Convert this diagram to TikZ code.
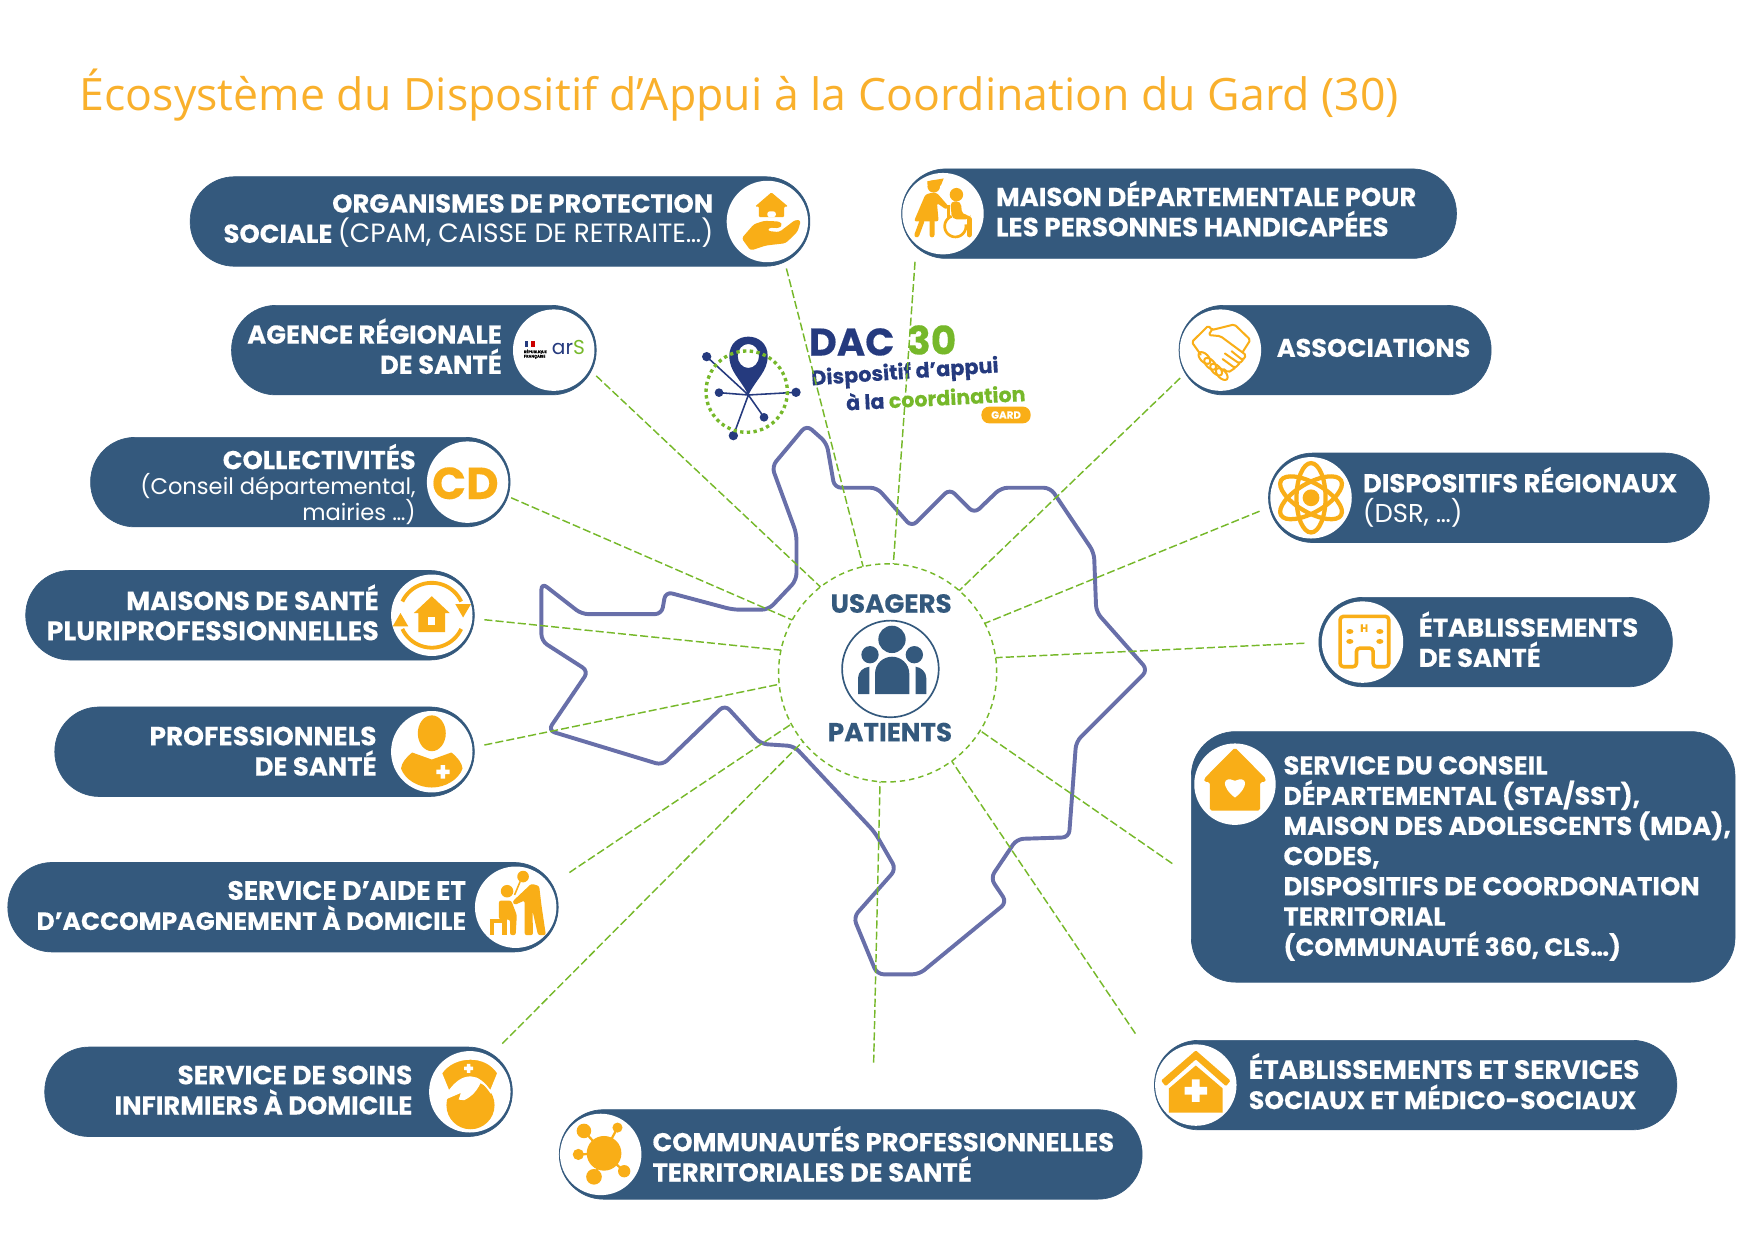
\documentclass[tikz,border=0pt]{standalone}
\usepackage{fontspec}
\setmainfont{Poppins}[BoldFeatures={FakeBold=0.25}]
\newfontfamily\titlefont{Open Sans}
\definecolor{pillc}{HTML}{34597D}
\definecolor{oran}{HTML}{F9AE17}
\definecolor{grn}{HTML}{76B82A}
\definecolor{mapc}{HTML}{686FA9}
\definecolor{navy}{HTML}{253A7E}
\definecolor{titlec}{HTML}{F9B02C}
\tikzset{
 pillshape/.style={fill=pillc,draw=pillc,line width=.3pt,rounded corners=19.8pt,inner sep=0pt,outer sep=0pt},
 icodisc/.style={circle,fill=white,inner sep=0pt,outer sep=0pt,minimum size=36.4pt},
 rlabel/.style={anchor=east,align=right,text=white,inner sep=0pt,font=\fontsize{11.55}{13.5}\selectfont\bfseries},
 llabel/.style={anchor=west,align=left,text=white,inner sep=0pt,font=\fontsize{11.55}{13.5}\selectfont\bfseries},
 link/.style={grn,line width=.65pt,dash pattern=on 3.6pt off 1.4pt},
 hubring/.style={circle,draw=grn,line width=.65pt,dash pattern=on 2.4pt off 1.8pt,minimum size=97.5pt,inner sep=0pt,outer sep=0pt},
 outline/.style={mapc,line width=1.75pt,rounded corners=3pt,line join=round},
 hublabel/.style={text=pillc,inner sep=0pt,font=\fontsize{11.7}{13}\selectfont\bfseries},
}
\newcommand{\sz}[1]{\fontsize{#1}{13.5}\selectfont}
\newcommand{\pillbox}[5]{\node[pillshape,minimum width={(#3-#2)*0.5pt},minimum height={(#5-#4)*0.5pt}] (#1) at ({(#2+#3)/2},{(#4+#5)/2}) {};}
% icons in local units, y downwards
\newcommand{\icoHand}{%
 \fill[oran,rounded corners=.5pt] (3.6,-26) -- (18.5,-13.4) -- (15,-13.4) -- (15,-3.9) -- (-7.5,-3.9) -- (-7.5,-13.4) -- (-11,-13.4) -- cycle;
 \fill[white,rounded corners=1pt] (0,-3.9) -- (0,-9) -- (7.5,-9) -- (7.5,-3.9) -- cycle;
 \fill[oran,rounded corners=1.2pt] (-23,15) -- (-12,2.4) -- (-3,-.6) -- (11,0) -- (13.5,3) -- (10.5,6) -- (1.5,5.4) -- (0,8.4) -- (10.5,9.5) -- (25,-1.5) -- (30,-1) -- (27,9) -- (16.4,19.4) -- (-1.5,21.5) -- (-15,26) -- cycle;}
\newcommand{\icoChair}{%
 \fill[oran] (-8.3,-24.4) circle[radius=5.6];
 \fill[oran] (-14,-26) -- (-14,-29) -- (.6,-31.5) -- (-2,-25) -- cycle;
 \fill[oran,rounded corners=1pt] (-11.3,-18.5) -- (-5.4,-18.5) -- (5,-6.5) -- (3,-3.6) -- (-5.4,-9.5) -- (-3.9,6.9) -- (-26,6.9) -- (-15.8,-17) -- cycle;
 \draw[oran,line width=2.2pt,line cap=round] (-18.9,6.9) -- (-23.4,19) (-9.8,6.9) -- (-9.8,19);
 \fill[oran] (12,-17) circle[radius=6];
 \fill[oran,rounded corners=2pt] (6.5,-11) -- (16,-11) -- (17,1) -- (24.5,1) -- (24.5,5) -- (8,5) -- cycle;
 \draw[oran,line width=1.2pt] plot[domain=-10:250,samples=30] ({11+9.5*cos(\x)},{11.3+9.5*sin(\x)});
 \draw[oran,line width=1.2pt] (5,-8) -- (5,4);
 \draw[oran,line width=2.2pt,line cap=round] (23.5,5) -- (23.5,19);}
\newcommand{\icoShake}{%
 \draw[oran,line width=.9pt,line join=round,line cap=round,rounded corners=.8pt] (-17.6,4) -- (-25.6,-7.2) -- (-10.7,-22) -- (-7.7,-18) -- (12.5,-23) -- (26.8,-9.2) -- (20,1.5)
 (-7.7,-18) -- (-10.7,-13.5) -- (0,-12.5) -- (23,4.5) -- (20,9) -- (10,1)
 (20,9) -- (17,12) -- (4,3) (17,12) -- (13,16) -- (2,8) (13,16) -- (7,20) -- (3,17);
 \foreach \p in {(-14.3,7),(-9.2,12.2),(-3.8,17.4),(1.2,21.4)}{\draw[oran,line width=.9pt,shift={\p},rotate=-45] (0,0) ellipse[x radius=6.5,y radius=3.6];}}
\newcommand{\icoAtom}{%
 \foreach \a in {30,90,150}{\draw[oran,line width=1.9pt,rotate=\a] (0,0) ellipse[x radius=31,y radius=13];}
 \fill[oran] (0,0) circle[radius=7.5];}
\newcommand{\icoCycle}{%
 \draw[oran,line width=1.7pt] plot[domain=205:335,samples=24] ({29*cos(\x)},{29*sin(\x)});
 \draw[oran,line width=1.7pt] plot[domain=25:155,samples=24] ({29*cos(\x)},{29*sin(\x)});
 \fill[oran] (21,-10) -- (35,-10) -- (28,2) -- cycle (-35,10) -- (-21,10) -- (-28,-2) -- cycle;
 \fill[oran] (0,-17) -- (16,-2) -- (12,-2) -- (12,15) -- (-12,15) -- (-12,-2) -- (-16,-2) -- cycle;
 \fill[white] (-3,2) rectangle (3,9);}
\newcommand{\icoHospital}{%
 \draw[oran,line width=1.6pt,line join=round,rounded corners=1.5pt] (-5.4,22) -- (-20,22) -- (-20,-23) -- (23.5,-23) -- (23.5,22) -- (9.5,22) -- (9.5,5.4) -- (-5.4,5.4) -- cycle;
 \node[text=oran,inner sep=0pt,font=\fontsize{4.8}{5}\selectfont\bfseries] (hospH) at (1.5,-12.5) {H};
 \fill[oran] (-11.3,-9.5) ellipse[x radius=3.2,y radius=2.2] (15.5,-9.5) ellipse[x radius=3.2,y radius=2.2] (-11.3,-.6) ellipse[x radius=3.2,y radius=2.2] (15.5,-.6) ellipse[x radius=3.2,y radius=2.2];}
\newcommand{\icoMedic}{%
 \fill[oran] (0,-16.5) ellipse[x radius=12.5,y radius=16];
 \fill[oran] (-17.5,.7) -- (0,7) -- (17.5,.7) .. controls (23,5) and (27,10) .. (27.5,15) .. controls (24,25) and (12,32) .. (0,32) .. controls (-12,32) and (-24,25) .. (-27.5,15) .. controls (-27,10) and (-23,5) .. (-17.5,.7) -- cycle;
 \fill[white] (8,12) rectangle (12,24) (4,16) rectangle (16,20);}
\newcommand{\icoHeartHouse}{%
 \fill[oran,rounded corners=.8pt] (0,-32.7) -- (27.5,-5) -- (27.5,-2) -- (22.5,-2) -- (22.5,23.6) -- (-22.5,23.6) -- (-22.5,-2) -- (-27.5,-2) -- (-27.5,-5) -- cycle;
 \fill[white] (0,12) .. controls (-13,2) and (-11,-8) .. (0,-3) .. controls (11,-8) and (13,2) .. (0,12) -- cycle;}
\newcommand{\icoHelper}{%
 \fill[oran] (6.6,-27.4) circle[radius=5.2] (-7.7,-14.3) circle[radius=5.6];
 \draw[oran,line width=.7pt] (4,-23) -- (-1,-11);
 \fill[oran,rounded corners=1pt] (14,-21) -- (21,-19) -- (23,-2) -- (27,25) -- (20,25) -- (15,3) -- (15.5,25) -- (8,25) -- (8,-6) -- (-1,-2) -- (-3,-5) -- cycle;
 \fill[oran,rounded corners=1pt] (-15,-6) -- (-4,-6) -- (1,7) -- (0,25) -- (-5,25) -- (-5,11) -- (-15,11) -- cycle;
 \draw[oran,line width=1.8pt] (-23,12) -- (-8,12) (-21,12) -- (-21,25) (-10,12) -- (-10,25);}
\newcommand{\icoNurse}{%
 \fill[oran] (.6,12) circle[radius=21.5];
 \fill[white] (11,-11) .. controls (7,-1) and (2,4) .. (-5,7.5) -- (-10,7) -- (-8,1) -- (-22,7) -- (-28,-14) -- cycle;
 \draw[white,fill=oran,line width=.8pt] (-18.8,0) -- (-25.6,-16.7) .. controls (-20,-25) and (-10,-29.5) .. (.6,-29.5) .. controls (11,-29.5) and (20,-25) .. (25.3,-16.7) -- (18.5,0) .. controls (13,-8) and (7,-13) .. (.6,-13) .. controls (-7,-13) and (-13,-8) .. (-18.8,0) -- cycle;
 \fill[white] (-2.6,-25) rectangle (.6,-17) (-5,-22.6) rectangle (3,-19.4);}
\newcommand{\icoNetwork}{%
 \draw[oran,line width=1pt] (3,-1) -- (-15,-21) (3,-1) -- (15,-24) (3,-1) -- (-20,0) (3,-1) -- (21,15) (3,-1) -- (-6,20);
 \fill[oran] (3,-1) circle[radius=15.5] (-15,-21) circle[radius=6.5] (15,-24) circle[radius=4.5] (-20,0) circle[radius=5] (21,15) circle[radius=5.5] (-6,20) circle[radius=7];}
\newcommand{\icoCross}{%
 \fill[oran,rounded corners=.5pt] (0,-31) -- (31,-4) -- (27,1) -- (0,-23) -- (-27,1) -- (-31,-4) -- cycle;
 \fill[oran] (0,-17.5) -- (24,3) -- (24,24.6) -- (-24,24.6) -- (-24,3) -- cycle;
 \fill[white] (-3.5,-5) rectangle (3.5,15) (-10,1.5) rectangle (10,8.5);}
\AtBeginDocument{\lineskiplimit=-20pt\relax}
\begin{document}
\begin{tikzpicture}[x=0.5pt,y=-0.5pt]
\useasboundingbox (0,0) rectangle (1568,1109.4);
% title
\node[anchor=base west,text=titlec,inner sep=0pt,font=\titlefont\fontsize{19.95}{25}\selectfont] (title) at (71,99) {Écosystème du Dispositif d’Appui à la Coordination du Gard (30)};
% department outline
\draw[outline] (721,380) -- (739,396) -- (746,436) -- (784,436) -- (815,471) -- (849,437) -- (871,459) -- (895,436) -- (939,436) -- (978,494) -- (980,547) -- (1026,599) -- (962,663) -- (955.6,748.5) -- (909,750) -- (885.5,785) -- (900,806.6) -- (821.6,871) -- (784,871) -- (763,820) -- (801,777) -- (782,744) -- (710,667) -- (680,665) -- (648,630) -- (592,684) -- (490,653) -- (526,600) -- (484,573) -- (484,521) -- (520,549) -- (591.5,549) -- (595,529) -- (655,545) -- (687,545) -- (712,518.6) -- (712,477) -- (690,417) -- cycle;
% logo
\begin{scope}[shift={(607.9,277.1)},scale=0.298]
 \draw[navy,line width=.7pt] (205,255) -- (80,140) (205,255) -- (117,248) (205,255) -- (348,247) (205,255) -- (252,322) (205,255) -- (160,377);
 \fill[navy] (80,140) circle[radius=14] (117,248) circle[radius=13] (348,247) circle[radius=14] (252,322) circle[radius=13] (160,377) circle[radius=14];
 \fill[navy,even odd rule] (205,255) .. controls (180,205) and (148,185) .. (148,138) .. controls (148,100) and (175,80) .. (205,80) .. controls (235,80) and (263,100) .. (263,138) .. controls (263,185) and (230,205) .. (205,255) -- cycle (205,138) ellipse[x radius=32,y radius=36];
 \draw[grn,line width=1.5pt,dash pattern=on 1.5pt off 1.5pt] (200,245) circle[radius=122];
 \node[text=navy,inner sep=0pt,font=\fontsize{17.2}{18}\selectfont\bfseries] (logoDAC) at (515,96) {DAC};
 \node[text=grn,inner sep=0pt,font=\fontsize{17.5}{18}\selectfont\bfseries] (logo30) at (755,90) {30};
 \node[text=navy,inner sep=0pt,rotate=4,font=\fontsize{9.3}{10}\selectfont\bfseries] (logoA) at (675,190) {Dispositif d’appui};
 \node[inner sep=0pt,rotate=3,font=\fontsize{9.2}{10}\selectfont\bfseries] (logoB) at (767,262) {\textcolor{navy}{à la} \textcolor{grn}{coordination}};
 \node[fill=oran,rounded corners=3.5pt,text=white,inner sep=0pt,minimum width=22pt,minimum height=7.5pt,font=\fontsize{4.6}{5}\selectfont\bfseries] (logoG) at (978,315) {GARD};
\end{scope}
% hub
\node[hubring] (hub) at (793.5,601.5) {};
\node[circle,draw=pillc,line width=.75pt,minimum size=43.2pt,inner sep=0pt] (hubicon) at (796,598) {};
\begin{scope}[shift={(679.4,491.7)},scale=0.298]
 \fill[pillc] (396,268) circle[radius=41] (330,314) circle[radius=26] (463,314) circle[radius=26];
 \fill[pillc] (345,432) -- (345,372) .. controls (345,340) and (370,320) .. (396,320) .. controls (422,320) and (448,340) .. (448,372) -- (448,432) -- cycle;
 \fill[pillc] (294,432) -- (294,385) .. controls (294,365) and (310,352) .. (328,350) -- (328,432) -- cycle;
 \fill[pillc] (499,432) -- (499,385) .. controls (499,365) and (483,352) .. (467,350) -- (467,432) -- cycle;
\end{scope}
\node[hublabel] (usagers) at (796.6,539.5) {USAGERS};
\node[hublabel] (patients) at (795.6,654.5) {PATIENTS};
% pills
\pillbox{p1}{170}{724}{158}{238}
\pillbox{p2}{806}{1302}{151}{231}
\pillbox{p3}{207}{533}{273}{353}
\pillbox{p4}{1054}{1333}{273}{353}
\pillbox{p5}{81}{456}{391}{471}
\pillbox{p6}{1134}{1528}{405}{485}
\pillbox{p7}{23}{424}{510}{590}
\pillbox{p8}{1179}{1495}{534}{614}
\pillbox{p9}{49}{424}{632}{712}
\pillbox{p10}{1065}{1551}{654}{878}
\pillbox{p11}{7}{499}{771}{851}
\pillbox{p12}{40}{458}{936}{1016}
\pillbox{p13}{500}{1021}{992}{1072}
\pillbox{p14}{1032}{1499}{930}{1010}
% discs
\node[icodisc] (i1) at (686,198) {};
\node[icodisc] (i2) at (843,191) {};
\node[icodisc] (i3) at (495,313) {};
\node[icodisc] (i4) at (1091,313) {};
\node[icodisc] (i5) at (418,431) {};
\node[icodisc] (i6) at (1172,445) {};
\node[icodisc] (i7) at (386,550) {};
\node[icodisc] (i8) at (1218,574) {};
\node[icodisc] (i9) at (386,672) {};
\node[icodisc] (i10) at (1104,701) {};
\node[icodisc] (i11) at (461,811) {};
\node[icodisc] (i12) at (420,976) {};
\node[icodisc] (i13) at (537,1032) {};
\node[icodisc] (i14) at (1069,970) {};
% icons
\begin{scope}[shift={(686,198)}]\icoHand\end{scope}
\begin{scope}[shift={(843,191)}]\icoChair\end{scope}
\begin{scope}[shift={(1091,313)}]\icoShake\end{scope}
\begin{scope}[shift={(1172,445)}]\icoAtom\end{scope}
\begin{scope}[shift={(386,550)}]\icoCycle\end{scope}
\begin{scope}[shift={(1218,574)}]\icoHospital\end{scope}
\begin{scope}[shift={(386,672)}]\icoMedic\end{scope}
\begin{scope}[shift={(1104,701)}]\icoHeartHouse\end{scope}
\begin{scope}[shift={(461,811)}]\icoHelper\end{scope}
\begin{scope}[shift={(420,976)}]\icoNurse\end{scope}
\begin{scope}[shift={(537,1032)}]\icoNetwork\end{scope}
\begin{scope}[shift={(1069,970)}]\icoCross\end{scope}
\node[text=oran,inner sep=0pt,font=\fontsize{20}{20}\selectfont\bfseries] (cdtext) at (416,432) {CD};
% ARS mark
\fill[navy] (469,304.5) rectangle (472,310.5);
\fill[white] (472,304.5) rectangle (475,310.5);
\fill[red!80!black] (475,304.5) rectangle (478,310.5);
\node[anchor=north west,inner sep=0pt,align=left,text=black,font=\fontsize{1.7}{2}\selectfont\bfseries] (rf) at (468,312) {RÉPUBLIQUE\\FRANÇAISE};
\node[anchor=west,inner sep=0pt,font=\fontsize{9}{9}\selectfont] (arsmark) at (493,311) {\textcolor{navy}{ar}\textcolor{grn}{S}};
% labels
\node[rlabel] (t1) at (638,197.5) {ORGANISMES DE PROTECTION\hspace{2.5pt}\\SOCIALE \sz{11.8}\mdseries(CPAM, CAISSE DE RETRAITE…)};
\node[llabel] (t2) at (890,186.5) {MAISON DÉPARTEMENTALE POUR\\\sz{11.7}LES PERSONNES HANDICAPÉES};
\node[rlabel] (t3) at (449,309.5) {AGENCE RÉGIONALE\\DE SANTÉ};
\node[llabel] (t4) at (1141,311) {\sz{11.4}ASSOCIATIONS};
\node[rlabel,font=\fontsize{11.55}{11.5}\selectfont\bfseries] (t5) at (372,433) {COLLECTIVITÉS\\\fontsize{10.1}{11.5}\selectfont\mdseries(Conseil départemental,\\\fontsize{10.1}{11.5}\selectfont\mdseries mairies …)};
\node[llabel] (t6) at (1218,444.5) {DISPOSITIFS RÉGIONAUX\\\mdseries(DSR, …)};
\node[rlabel] (t7) at (339,547.5) {\sz{11.7}MAISONS DE SANTÉ\\\sz{12}PLURIPROFESSIONNELLES};
\node[llabel] (t8) at (1268,571.5) {ÉTABLISSEMENTS\\DE SANTÉ};
\node[rlabel] (t9) at (337,671.5) {\sz{11.8}PROFESSIONNELS\\DE SANTÉ};
\node[llabel] (t10) at (1147,767.5) {SERVICE DU CONSEIL\\\sz{11.3}DÉPARTEMENTAL (STA/SST),\\\sz{11.5}MAISON DES ADOLESCENTS (MDA),\\CODES,\\DISPOSITIFS DE COORDONATION\\TERRITORIAL\\\sz{11.1}(COMMUNAUTÉ 360, CLS…)};
\node[rlabel] (t11) at (417,809.5) {\sz{11.8}SERVICE D’AIDE ET\\\sz{11.17}D’ACCOMPAGNEMENT À DOMICILE};
\node[rlabel] (t12) at (369,974.5) {\sz{11.8}SERVICE DE SOINS\\INFIRMIERS À DOMICILE};
\node[llabel] (t13) at (583,1031.5) {COMMUNAUTÉS PROFESSIONNELLES\\TERRITORIALES DE SANTÉ};
\node[llabel] (t14) at (1116,966.5) {\sz{11.8}ÉTABLISSEMENTS ET SERVICES\\\sz{11.25}SOCIAUX ET MÉDICO-SOCIAUX};
% connector free ends
\coordinate (c1) at (703,240);
\coordinate (c2) at (818,234);
\coordinate (c3) at (533,336);
\coordinate (c4) at (1055,338);
\coordinate (c5) at (457,445);
\coordinate (c6) at (1126,457);
\coordinate (c7) at (433,554);
\coordinate (c8) at (1166,575);
\coordinate (c9) at (433,666);
\coordinate (c10) at (1048,772);
\coordinate (c11) at (509,780);
\coordinate (c12) at (449,933);
\coordinate (c13) at (781,950);
\coordinate (c14) at (1015,924);
\draw[link] (c1) -- (hub.103.4);
\draw[link] (c2) -- (hub.87.7);
\draw[link] (c3) -- (hub.128.8);
\draw[link] (c4) -- (hub.49.3);
\draw[link] (c5) -- (hub.151.8);
\draw[link] (c6) -- (hub.27.8);
\draw[link] (c7) -- (hub.168.6);
\draw[link] (c8) -- (hub.8.5);
\draw[link] (c9) -- (hub.186.2);
\draw[link] (c10) -- (hub.-32.3);
\draw[link] (c11) -- (hub.208.9);
\draw[link] (c12) -- (hub.219.5);
\draw[link] (c13) -- (hub.266.4);
\draw[link] (c14) -- (hub.-54.7);
\end{tikzpicture}
\end{document}
